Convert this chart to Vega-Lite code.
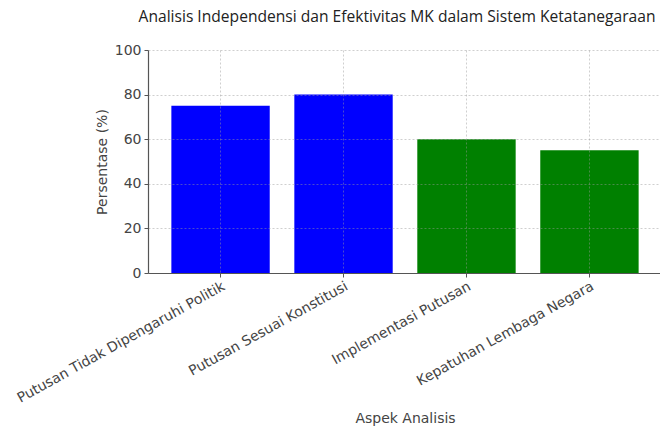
{
  "$schema": "https://vega.github.io/schema/vega-lite/v6.json",
  "autosize": {"type": "none"},
  "width": 514,
  "height": 223,
  "padding": {"left": 148, "top": 50, "right": 0, "bottom": 157},
  "background": "white",
  "title": {
    "text": "Analisis Independensi dan Efektivitas MK dalam Sistem Ketatanegaraan",
    "font": "Open Sans",
    "fontSize": 15.6,
    "fontWeight": "normal",
    "color": "#222222",
    "anchor": "middle",
    "dx": -8,
    "offset": 17
  },
  "data": {
    "values": [
      {"aspek": "Putusan Tidak Dipengaruhi Politik", "persen": 75, "kelompok": "Independensi"},
      {"aspek": "Putusan Sesuai Konstitusi", "persen": 80, "kelompok": "Independensi"},
      {"aspek": "Implementasi Putusan", "persen": 60, "kelompok": "Efektivitas"},
      {"aspek": "Kepatuhan Lembaga Negara", "persen": 55, "kelompok": "Efektivitas"}
    ]
  },
  "mark": {"type": "bar"},
  "encoding": {
    "x": {
      "field": "aspek",
      "type": "nominal",
      "sort": null,
      "title": "Aspek Analisis",
      "scale": {"paddingInner": 0.2, "paddingOuter": 0.19},
      "axis": {"labelAngle": -29, "labelAlign": "right", "labelBaseline": "top", "labelLimit": 0, "labelPadding": 2, "grid": true, "zindex": 1, "titlePadding": 6}
    },
    "y": {
      "field": "persen",
      "type": "quantitative",
      "title": "Persentase (%)",
      "scale": {"domain": [0, 100], "nice": false},
      "axis": {"values": [0, 20, 40, 60, 80, 100], "grid": true, "zindex": 1, "titlePadding": 5}
    },
    "color": {
      "field": "kelompok",
      "type": "nominal",
      "scale": {"domain": ["Independensi", "Efektivitas"], "range": ["#0000ff", "#008000"]},
      "legend": null
    }
  },
  "config": {
    "view": {"stroke": "transparent", "strokeWidth": 0},
    "axis": {
      "labelFont": "DejaVu Sans",
      "labelFontSize": 14,
      "labelColor": "#444444",
      "titleFont": "DejaVu Sans",
      "titleFontSize": 14,
      "titleFontWeight": "normal",
      "titleColor": "#444444",
      "domainColor": "#555555",
      "domainWidth": 1.2,
      "tickColor": "#555555",
      "tickSize": 4,
      "labelPadding": 3,
      "gridColor": "#999999",
      "gridOpacity": 0.6,
      "gridDash": [2, 2],
      "gridWidth": 0.8
    }
  }
}
